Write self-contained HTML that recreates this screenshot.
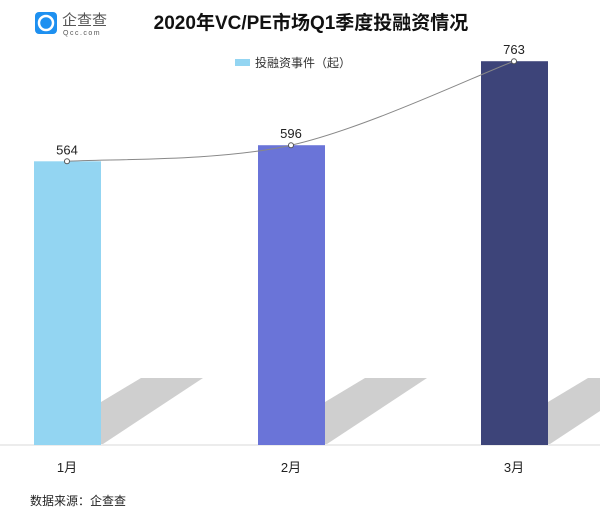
<!DOCTYPE html>
<html><head><meta charset="utf-8"><style>
body{margin:0;background:#fff;width:600px;height:522px;overflow:hidden;font-family:"Liberation Sans","Noto Sans CJK SC",sans-serif}
</style></head><body>
<svg width="600" height="522" xmlns="http://www.w3.org/2000/svg" font-family="Liberation Sans, Noto Sans CJK SC, sans-serif">
<g>
<rect x="35" y="12" width="22" height="22" rx="4" fill="#1e90f0"/>
<circle cx="46" cy="23" r="7" fill="none" stroke="#fff" stroke-width="2.5"/>
<text x="62" y="25" font-size="15" fill="#555">企查查</text>
<text x="63" y="35" font-size="7" fill="#555" letter-spacing="1.5">Qcc.com</text>
</g>
<text x="311" y="29" font-size="19" font-weight="bold" text-anchor="middle" fill="#111">2020年VC/PE市场Q1季度投融资情况</text>
<g>
<rect x="235" y="59" width="15" height="7" fill="#93d5f2"/>
<text x="255" y="67" font-size="12" fill="#333">投融资事件（起）</text>
</g>
<g id="plot"></g>
<text x="30" y="505" font-size="12" fill="#222">数据来源：企查查</text>
</svg>
<script>
const categories=["1月","2月","3月"];
const values=[564,596,763];
const colors=["#93d5f2","#6a74d8","#3d4479"];
const base=445, scale=0.503;
const cx=[67,291,514];
const y=v=>base-v*scale;
const ns="http://www.w3.org/2000/svg";
const g=document.getElementById('plot');
function mk(t,a){const e=document.createElementNS(ns,t);for(const k in a)e.setAttribute(k,a[k]);g.appendChild(e);return e;}
categories.forEach((c,i)=>{
  const r=cx[i]+34;
  const s=mk('polygon',{points:`${r},402 ${r+40},378 ${r+102},378 ${r+2},${base-1} ${r},${base-1}`,fill:'#cfcfcf'});
  
  
});
const ax=mk('line',{x1:0,x2:600,y1:base,y2:base,stroke:'#d8d8d8','stroke-width':1});


categories.forEach((c,i)=>{
  const b=mk('rect',{x:cx[i]-33,y:y(values[i]),width:67,height:values[i]*scale,fill:colors[i]});
  
  
  const t=mk('text',{x:cx[i],y:472,'font-size':13,'text-anchor':'middle',fill:'#222'});
  t.textContent=c;
  
  
});
const p=cx.map((x,i)=>[x,y(values[i])]);
let d=`M${p[0][0]},${p[0][1]}`;
for(let i=0;i<p.length-1;i++){
  const p0=p[i-1]||p[i],p1=p[i],p2=p[i+1],p3=p[i+2]||p2;
  d+=` C${p1[0]+(p2[0]-p0[0])/6},${p1[1]+(p2[1]-p0[1])/6} ${p2[0]-(p3[0]-p1[0])/6},${p2[1]-(p3[1]-p1[1])/6} ${p2[0]},${p2[1]}`;
}
const ln=mk('path',{d:d,fill:'none',stroke:'#888','stroke-width':1});


p.forEach((q,i)=>{
  const c=mk('circle',{cx:q[0],cy:q[1],r:2.5,fill:'#fff',stroke:'#555','stroke-width':1});
  
  
  const t=mk('text',{x:q[0],y:q[1]-7,'font-size':13,'text-anchor':'middle',fill:'#222'});
  t.textContent=values[i];
  
  
});
</script>
</body></html>
